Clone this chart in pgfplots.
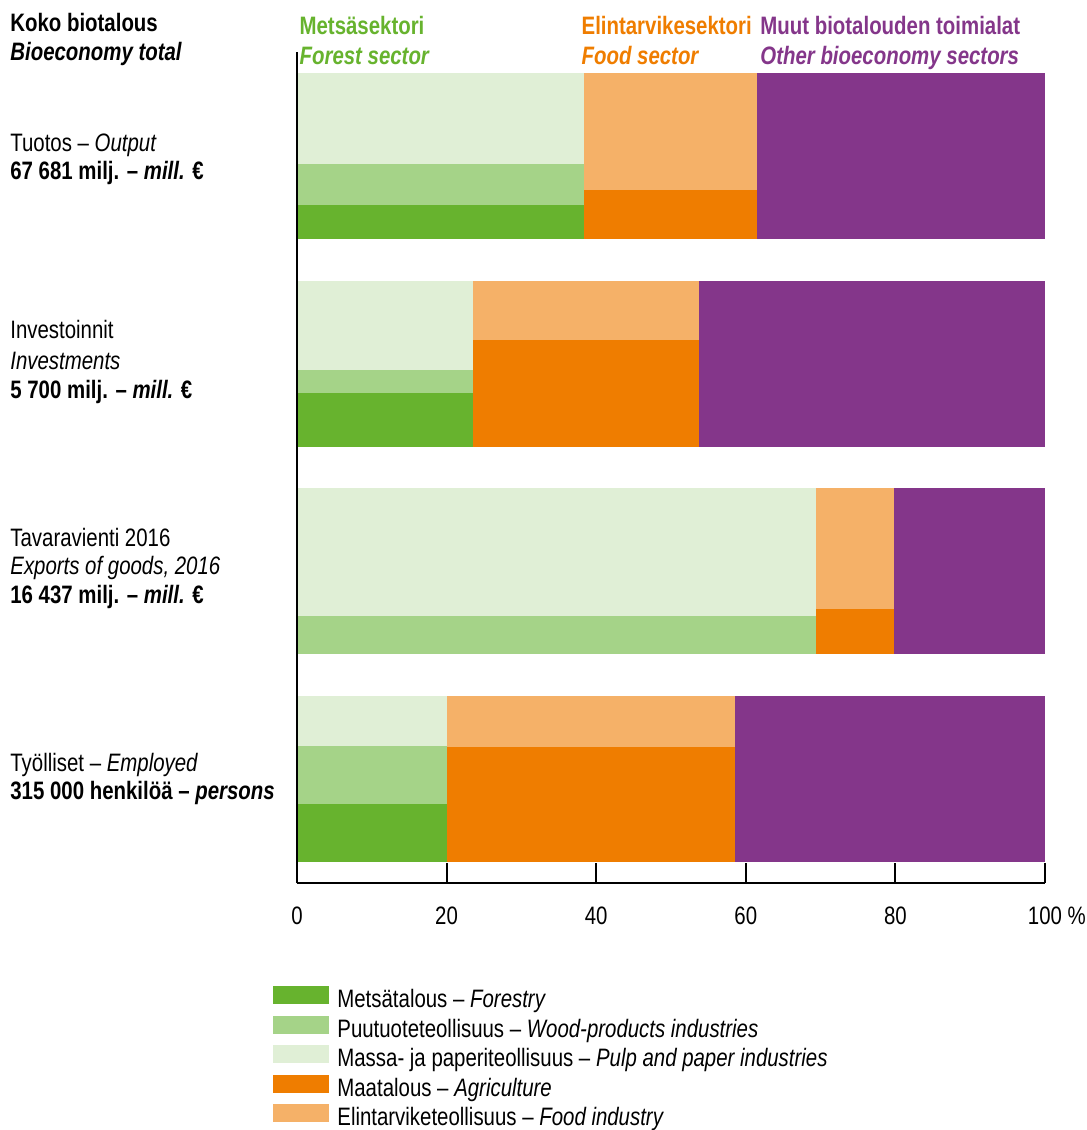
\documentclass[border=0pt]{standalone}
\usepackage{pgfplots}
\pgfplotsset{compat=1.18}
\usepackage{fontspec}
\setmainfont{Liberation Sans}[FakeStretch=0.81]
\definecolor{forestry}{HTML}{67B32E}
\definecolor{wood}{HTML}{A5D388}
\definecolor{pulp}{HTML}{E0EFD6}
\definecolor{agri}{HTML}{EF7D00}
\definecolor{foodind}{HTML}{F5B168}
\definecolor{other}{HTML}{84368A}
\newcommand{\fs}{\fontsize{12.6}{14.75}\selectfont}
\newcommand{\rect}[5]{\addplot[fill=#1,draw=none,forget plot] coordinates {(#2,#4) (#3,#4) (#3,#5) (#2,#5)} -- cycle;}
\tikzset{lbl/.style={anchor=base west, inner sep=0pt, font=\fs, xshift=-143.5pt}}
\begin{document}
\begin{tikzpicture}
\useasboundingbox (-148.5pt,-123.5pt) rectangle (395pt,441.5pt);
\begin{axis}[
  scale only axis, width=374pt, height=415.5pt,
  xmin=0, xmax=100, ymin=0, ymax=4,
  axis lines=left, axis line style={-, line width=1pt, black},
  axis on top, clip=false,
  xtick={0,20,40,60,80,100},
  xticklabels={0,20,40,60,80,100\rlap{\ \%}},
  tick align=inside, major tick length=10pt,
  xtick style={line width=1pt, black},
  ytick=\empty,
  xticklabel style={font=\fs, inner sep=0pt, anchor=north, yshift=-11.5pt},
  /pgf/number format/assume math mode=true,
  legend cell align=left,
  legend image code/.code={\fill[#1, draw=none] (0pt,-0.5pt) rectangle (28pt,8.5pt);},
  legend style={at={(axis cs:0,0)}, anchor=north west, xshift=-12pt, yshift=-51.5pt,
    draw=none, fill=none, inner sep=0pt, font=\fs, row sep=-0.5pt,
    nodes={inner sep=0pt, text height=9pt, text depth=4.5pt},
    /tikz/every odd column/.append style={column sep=4pt}},
]
% Output
\rect{forestry}{0}{38.4}{3.1}{3.263}
\rect{wood}{0}{38.4}{3.263}{3.46}
\rect{pulp}{0}{38.4}{3.46}{3.9}
\rect{agri}{38.4}{61.5}{3.1}{3.334}
\rect{foodind}{38.4}{61.5}{3.334}{3.9}
\rect{other}{61.5}{100}{3.1}{3.9}
% Investments
\rect{forestry}{0}{23.5}{2.1}{2.358}
\rect{wood}{0}{23.5}{2.358}{2.469}
\rect{pulp}{0}{23.5}{2.469}{2.9}
\rect{agri}{23.5}{53.7}{2.1}{2.613}
\rect{foodind}{23.5}{53.7}{2.613}{2.9}
\rect{other}{53.7}{100}{2.1}{2.9}
% Exports
\rect{wood}{0}{69.4}{1.1}{1.287}
\rect{pulp}{0}{69.4}{1.287}{1.9}
\rect{agri}{69.4}{79.8}{1.1}{1.32}
\rect{foodind}{69.4}{79.8}{1.32}{1.9}
\rect{other}{79.8}{100}{1.1}{1.9}
% Employed
\rect{forestry}{0}{20.0}{0.1}{0.382}
\rect{wood}{0}{20.0}{0.382}{0.66}
\rect{pulp}{0}{20.0}{0.66}{0.9}
\rect{agri}{20.0}{58.6}{0.1}{0.656}
\rect{foodind}{20.0}{58.6}{0.656}{0.9}
\rect{other}{58.6}{100}{0.1}{0.9}
% legend
\addlegendimage{fill=forestry}\addlegendentry{Metsätalous – \textit{Forestry}}
\addlegendimage{fill=wood}\addlegendentry{Puutuoteteollisuus – \textit{Wood-products industries}}
\addlegendimage{fill=pulp}\addlegendentry{Massa- ja paperiteollisuus – \textit{Pulp and paper industries}}
\addlegendimage{fill=agri}\addlegendentry{Maatalous – \textit{Agriculture}}
\addlegendimage{fill=foodind}\addlegendentry{Elintarviketeollisuus – \textit{Food industry}}
% row labels
\node[lbl] at (axis cs:0,3.523) {Tuotos – \textit{Output}};
\node[lbl] at (axis cs:0,3.384) {\textbf{67 681 milj. – \textit{mill.} €}};
\node[lbl] at (axis cs:0,2.619) {Investoinnit};
\node[lbl] at (axis cs:0,2.474) {\textit{Investments}};
\node[lbl] at (axis cs:0,2.330) {\textbf{5 700 milj. – \textit{mill.} €}};
\node[lbl] at (axis cs:0,1.622) {Tavaravienti 2016};
\node[lbl] at (axis cs:0,1.483) {\textit{Exports of goods, 2016}};
\node[lbl] at (axis cs:0,1.343) {\textbf{16 437 milj. – \textit{mill.} €}};
\node[lbl] at (axis cs:0,0.539) {Työlliset – \textit{Employed}};
\node[lbl] at (axis cs:0,0.400) {\textbf{315 000 henkilöä – \textit{persons}}};
% headers
\node[lbl, font=\fs\bfseries] at (axis cs:0,4.101) {Koko biotalous};
\node[lbl, font=\fs\bfseries\itshape] at (axis cs:0,3.961) {Bioeconomy total};
\node[anchor=base west, inner sep=0pt, font=\fs\bfseries, text=forestry] at (axis cs:0.3,4.082) {Metsäsektori};
\node[anchor=base west, inner sep=0pt, font=\fs\bfseries\itshape, text=forestry] at (axis cs:0.3,3.942) {Forest sector};
\node[anchor=base west, inner sep=0pt, font=\fs\bfseries, text=agri] at (axis cs:38.0,4.082) {Elintarvikesektori};
\node[anchor=base west, inner sep=0pt, font=\fs\bfseries\itshape, text=agri] at (axis cs:38.0,3.942) {Food sector};
\node[anchor=base west, inner sep=0pt, font=\fs\bfseries, text=other] at (axis cs:61.9,4.082) {Muut biotalouden toimialat};
\node[anchor=base west, inner sep=0pt, font=\fs\bfseries\itshape, text=other] at (axis cs:61.9,3.942) {Other bioeconomy sectors};
\end{axis}
\end{tikzpicture}
\end{document}
